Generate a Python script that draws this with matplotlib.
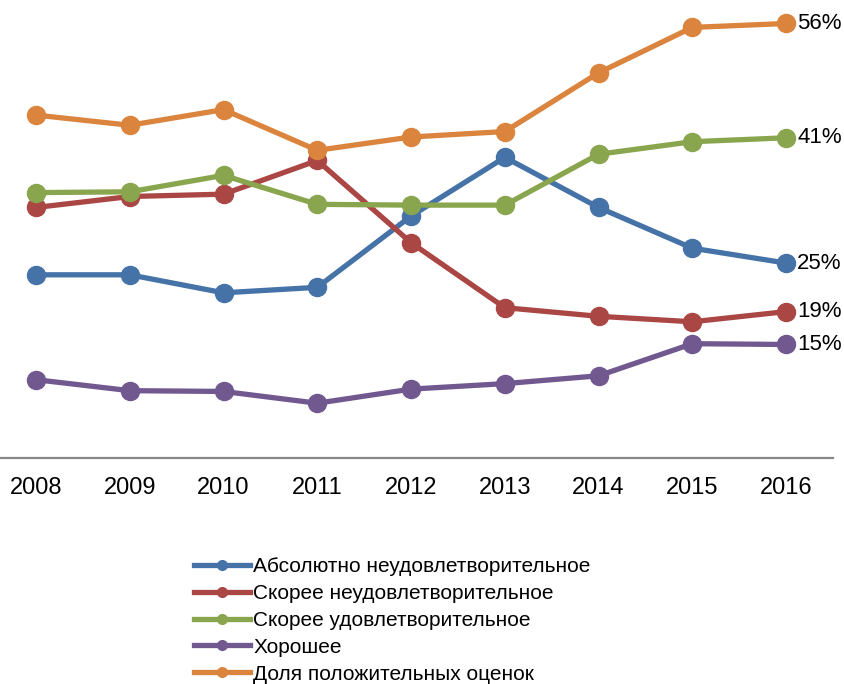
import matplotlib
matplotlib.use('Agg')

import numpy as np
import matplotlib.pyplot as plt
from matplotlib.lines import Line2D

years = ['2008', '2009', '2010', '2011', '2012', '2013', '2014', '2015', '2016']

absolutely_bad = [23.9, 23.9, 21.6, 22.3, 31.4, 38.9, 32.5, 27.3, 25.4]
rather_bad = [32.5, 33.9, 34.2, 38.5, 28.0, 19.7, 18.6, 17.9, 19.2]
rather_good = [34.4, 34.5, 36.6, 32.9, 32.8, 32.8, 39.3, 40.9, 41.4]
good = [10.5, 9.1, 9.0, 7.5, 9.3, 10.0, 11.0, 15.1, 15.0]
positive_share = [44.3, 43.0, 45.0, 39.8, 41.5, 42.2, 49.7, 55.5, 56.0]

series_names = ['Абсолютно неудовлетворительное', 'Скорее неудовлетворительное',
                'Скорее удовлетворительное', 'Хорошее', 'Доля положительных оценок']
series_values = [absolutely_bad, rather_bad, rather_good, good, positive_share]
end_labels = ['25%', '19%', '41%', '15%', '56%']
colors = ['#4572A7', '#AA4643', '#89A54E', '#71588F', '#DB843D']

plt.rcParams['font.family'] = ['Liberation Sans', 'DejaVu Sans']

fig = plt.figure(figsize=(8.44, 6.84), dpi=100)
ax = fig.add_axes([0.0, 1 - 458 / 684, 833 / 844, 458 / 684])

x = np.arange(len(years))
for name, vals, col in zip(series_names, series_values, colors):
    ax.plot(x, vals, color=col, lw=3.8, marker='o', markersize=13,
            markeredgecolor=col, markerfacecolor=col, label=name,
            solid_capstyle='round')

for vals, lab in zip(series_values, end_labels):
    ax.text(x[-1] + 0.12, vals[-1], lab, fontsize=16, va='center', ha='left', color='black')

ax.set_xlim(-0.384, 8.5)
ax.set_ylim(0.5, 59.0)
ax.set_xticks(x)
ax.set_xticklabels(years, fontsize=17)
ax.tick_params(axis='x', length=0, pad=14)
ax.set_yticks([])
for s in ['top', 'left', 'right']:
    ax.spines[s].set_visible(False)
ax.spines['bottom'].set_color('#888888')
ax.spines['bottom'].set_linewidth(1.6)

leg_handles = [Line2D([0], [0], color=c, lw=3.8, marker='o', markersize=7) for c in colors]
fig.legend(leg_handles, series_names, loc='upper left', bbox_to_anchor=(194 / 844, 1 - 557 / 684),
           frameon=False, fontsize=15, handlelength=2.7, handletextpad=0.15,
           labelspacing=0.38, borderpad=0, borderaxespad=0)

fig.savefig('out.png', dpi=100)
